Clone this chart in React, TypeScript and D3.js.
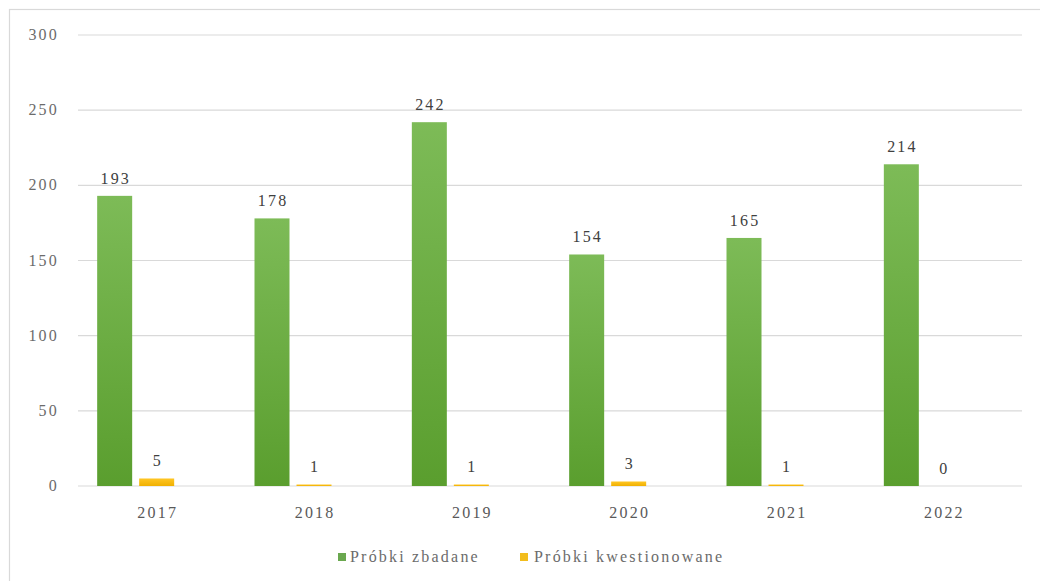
import React from "react";
import * as d3 from "d3";

const years = ["2017", "2018", "2019", "2020", "2021", "2022"];
const zbadane = [193, 178, 242, 154, 165, 214];
const kwestionowane = [5, 1, 1, 3, 1, 0];
const seriesNames = ["Próbki zbadane", "Próbki kwestionowane"];
const yTicks = [0, 50, 100, 150, 200, 250, 300];

const W = 1040;
const H = 581;
const FONT = "Liberation Serif, DejaVu Serif, Times New Roman, serif";
const LS = 2.2;

export default function App() {
  const x = d3.scaleBand<string>().domain(years).range([78, 1022]).padding(0);
  const inner = d3
    .scaleBand<string>()
    .domain(["a", "b", "c"])
    .range([-63, 63])
    .paddingInner(1 / 6)
    .paddingOuter(1 / 12);
  const y = d3.scaleLinear().domain([0, 300]).range([486, 35]);

  const series = [
    { key: "a", name: seriesNames[0], values: zbadane, fill: "url(#gGreen)", sw: "#6aa84f" },
    { key: "b", name: seriesNames[1], values: kwestionowane, fill: "url(#gYellow)", sw: "#f2bd1d" },
  ];

  const txt = { fontFamily: FONT, fontSize: 16, letterSpacing: LS } as const;

  return (
    <svg
      width={W}
      height={H}
      style={{ position: "absolute", left: 0, top: 0, background: "#fff" }}
    >
      <defs>
        <linearGradient id="gGreen" x1="0" y1="0" x2="0" y2="1">
          <stop offset="0%" stopColor="#7dbb57" />
          <stop offset="100%" stopColor="#5a9e2e" />
        </linearGradient>
        <linearGradient id="gYellow" x1="0" y1="0" x2="0" y2="1">
          <stop offset="0%" stopColor="#ffc625" />
          <stop offset="100%" stopColor="#f0b000" />
        </linearGradient>
      </defs>
      <rect x={9.5} y={9.5} width={1100} height={700} fill="none" stroke="#d9d9d9" strokeWidth={1.2} />

      {yTicks.map((t) => (
        <g key={t}>
          <line x1={78} x2={1022} y1={y(t)} y2={y(t)} stroke="#d9d9d9" strokeWidth={1.2} />
          <text x={59} y={y(t) + 5} textAnchor="end" style={txt} fill="#6b6b6b">
            {t}
          </text>
        </g>
      ))}

      {series.map((s) =>
        years.map((yr, i) => {
          const cx = (x(yr) as number) + x.bandwidth() / 2;
          const bx = cx + (inner(s.key) as number);
          const v = s.values[i];
          return (
            <g key={s.key + yr}>
              <rect
                x={bx}
                y={y(v)}
                width={inner.bandwidth()}
                height={y(0) - y(v)}
                fill={s.fill}
              />
              <text
                x={bx + inner.bandwidth() / 2 + LS / 2}
                y={y(v) - 12}
                textAnchor="middle"
                style={txt}
                fill="#404040"
              >
                {v}
              </text>
            </g>
          );
        })
      )}

      {years.map((yr) => (
        <text
          key={yr}
          x={(x(yr) as number) + x.bandwidth() / 2 + LS / 2}
          y={518}
          textAnchor="middle"
          style={txt}
          fill="#595959"
        >
          {yr}
        </text>
      ))}

      <g>
        <rect x={338} y={553} width={8} height={8} fill={series[0].sw} />
        <text x={350} y={562} style={txt} fill="#6b6b6b">
          {series[0].name}
        </text>
        <rect x={520} y={553} width={8} height={8} fill={series[1].sw} />
        <text x={534} y={562} style={txt} fill="#6b6b6b">
          {series[1].name}
        </text>
      </g>
    </svg>
  );
}
